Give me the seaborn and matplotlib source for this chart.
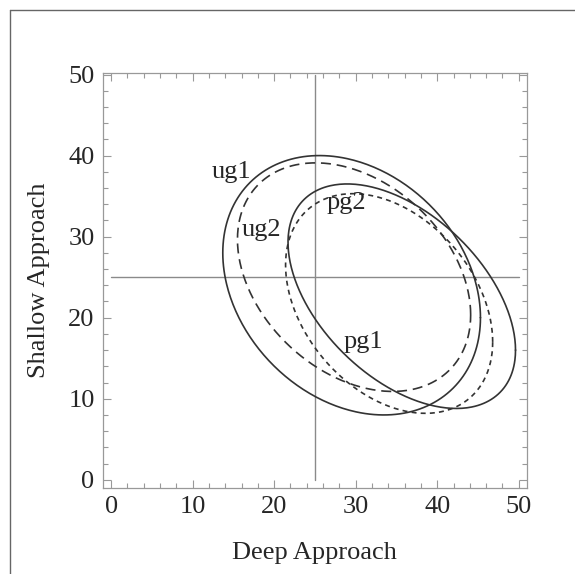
import numpy as np
import pandas as pd
import matplotlib
matplotlib.use("Agg")
import matplotlib.pyplot as plt
import seaborn as sns
from matplotlib.lines import Line2D

# ellipse parameters (centre, half-width, half-height, correlation)
groups = ["ug1", "ug2", "pg1", "pg2"]
center_x = [29.5, 29.8, 35.65, 34.1]
center_y = [24.0, 25.0, 22.65, 21.75]
half_w = [15.8, 14.3, 13.95, 12.7]
half_h = [16.0, 14.1, 13.85, 13.55]
rho = [-0.25, -0.33, -0.48, -0.35]

# label positions
label_x = [14.8, 18.4, 30.9, 28.9]
label_y = [38.0, 30.8, 17.0, 34.1]

# cross hair at the scale midpoint
cross_x = [25, 25]
cross_y = [0, 50]

sns.set_style("ticks")
plt.rcParams["font.family"] = ["Liberation Serif", "DejaVu Serif"]

# build outline points of each ellipse from its parameters
t = np.linspace(0, 2 * np.pi, 361)
frames = []
for g, cx, cy, sx, sy, r in zip(groups, center_x, center_y, half_w, half_h, rho):
    xs = cx + sx * np.cos(t)
    ys = cy + sy * (r * np.cos(t) + np.sqrt(1 - r ** 2) * np.sin(t))
    frames.append(pd.DataFrame({"x": xs, "y": ys, "group": g}))
df = pd.concat(frames, ignore_index=True)

fig = plt.figure(figsize=(5.75, 5.74), dpi=100)
ax = fig.add_axes([0.179, 0.150, 0.7374, 0.723])

ax.plot(cross_x, cross_y, color="#8a8a8a", lw=1.0)
ax.plot(cross_y, [25, 25], color="#8a8a8a", lw=1.0)

sns.lineplot(data=df, x="x", y="y", style="group", units="group",
             dashes={"ug1": "", "ug2": (6, 3.5), "pg1": "", "pg2": (3, 2.5)},
             sort=False, estimator=None, color="#333333", lw=1.2,
             legend=False, ax=ax)

for g, lx, ly in zip(groups, label_x, label_y):
    ax.text(lx, ly, g, fontsize=19, ha="center", va="center")

ax.set_xlim(-1, 51)
ax.set_ylim(-1, 50.2)
ax.set_xticks(range(0, 51, 10))
ax.set_yticks(range(0, 51, 10))
ax.set_xticks(range(0, 51, 2), minor=True)
ax.set_yticks(range(0, 51, 2), minor=True)
ax.tick_params(which="both", direction="in", top=True, right=True, color="#999999")
ax.tick_params(which="major", length=6, width=0.8, labelsize=19, pad=6)
ax.tick_params(which="minor", length=3.5, width=0.8)
for s in ax.spines.values():
    s.set_color("#999999")
    s.set_linewidth(0.9)

ax.set_xlabel("Deep Approach", fontsize=19, labelpad=17)
ax.set_ylabel("Shallow Approach", fontsize=19, labelpad=13)

# thin frame around the picture (top and left edges)
fig.add_artist(Line2D([10 / 575, 10 / 575], [0, 1 - 10 / 574], color="#666666", lw=1.0))
fig.add_artist(Line2D([10 / 575, 1], [1 - 10 / 574, 1 - 10 / 574], color="#666666", lw=1.0))

fig.savefig("out.png", dpi=100)
